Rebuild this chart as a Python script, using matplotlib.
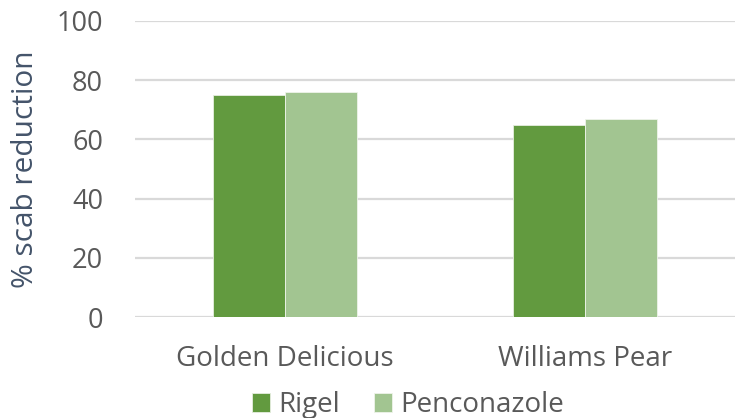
import numpy as np
import matplotlib
matplotlib.use('Agg')
import matplotlib.pyplot as plt

plt.rcParams['font.family'] = ['Open Sans', 'DejaVu Sans']

cultivars = ['Golden Delicious', 'Williams Pear']
rigel = [75, 65]
penconazole = [76, 67]
series = ['Rigel', 'Penconazole']
COLORS = ['#629a3f', '#a2c591']
yticks = [0, 20, 40, 60, 80, 100]

fig = plt.figure(figsize=(7.45, 4.18), dpi=100)
ax = fig.add_axes([0.181, 0.2416, 0.806, 0.7082])

x = np.arange(len(cultivars))
w = 0.24
ax.bar(x - w / 2, rigel, w, color=COLORS[0], label=series[0], zorder=3,
       edgecolor='#e6eee0', linewidth=0.6)
ax.bar(x + w / 2, penconazole, w, color=COLORS[1], label=series[1], zorder=3,
       edgecolor='#eef4ea', linewidth=0.6)

ax.set_xlim(-0.5, 1.5)
ax.set_ylim(0, 100)
ax.set_yticks(yticks)
ax.set_xticks(x)
ax.set_xticklabels(cultivars)
ax.yaxis.grid(True, color='#d9d9d9', linewidth=1.6, zorder=0)
ax.set_axisbelow(True)
for s in ax.spines.values():
    s.set_visible(False)
ax.tick_params(axis='y', length=0, pad=23, labelsize=19.5, labelcolor='#595959')
ax.tick_params(axis='x', length=0, pad=20, labelsize=20, labelcolor='#595959')
ax.set_ylabel('% scab reduction', fontsize=21.5, color='#44546a', labelpad=12)

ax.legend(loc='upper center', bbox_to_anchor=(0.455, -0.25), ncol=2, frameon=False,
          fontsize=20, labelcolor='#595959', handlelength=0.65, handleheight=0.65,
          handletextpad=0.3, columnspacing=1.2, borderaxespad=0, borderpad=0)

fig.savefig('out.png', dpi=100)
